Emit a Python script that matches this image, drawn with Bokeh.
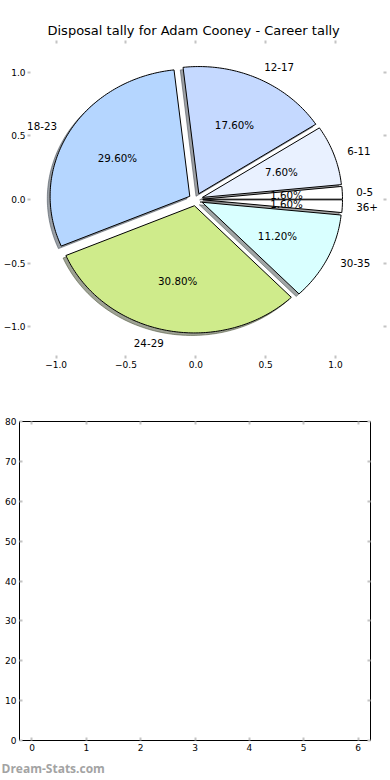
import numpy as np
from bokeh.plotting import figure
from bokeh.models import Range1d, LinearAxis, FixedTicker, ColumnDataSource, LabelSet, Title
from bokeh.embed import file_html
from bokeh.resources import INLINE
from bokeh.core.properties import value

# ---------------- data ----------------
title_text = "Disposal tally for Adam Cooney - Career tally"
categories = ["0-5", "6-11", "12-17", "18-23", "24-29", "30-35", "36+"]
counts = [4, 19, 44, 74, 77, 28, 4]
slice_colors = ["#ffffff", "#e9f1ff", "#c5d9ff", "#b5d6ff", "#cfeb8b", "#d9ffff", "#ffffff"]
pie_ticks = [-1.0, -0.5, 0.0, 0.5, 1.0]
pie_tick_labels = ["\u22121.0", "\u22120.5", "0.0", "0.5", "1.0"]
bar_x_ticks = [0, 1, 2, 3, 4, 5, 6]
bar_y_ticks = [0, 10, 20, 30, 40, 50, 60, 70, 80]
watermark = "Dream-Stats.com"

EXPLODE = 0.05
SHADOW = 0.02
FONT = "DejaVu Sans"
TICK_COLOR = "#c4c4c4"

# ---------------- pie geometry (computed from the data) ----------------
vals = np.array(counts, dtype=float)
frac = vals / vals.sum()
theta2 = np.cumsum(frac) * 2 * np.pi
theta1 = theta2 - frac * 2 * np.pi
mid = (theta1 + theta2) / 2
cx = EXPLODE * np.cos(mid)
cy = EXPLODE * np.sin(mid)

xs, ys, sxs, sys_ = [], [], [], []
for a, b, x0, y0 in zip(theta1, theta2, cx, cy):
    n = max(int(np.degrees(b - a)), 2) + 1
    t = np.linspace(a, b, n)
    px = np.concatenate([[x0], x0 + np.cos(t)])
    py = np.concatenate([[y0], y0 + np.sin(t)])
    xs.append(px.tolist())
    ys.append(py.tolist())
    sxs.append((px - SHADOW).tolist())
    sys_.append((py - SHADOW).tolist())


def shade(hexcol):
    h = hexcol.lstrip("#")
    r, g, b = (int(h[i:i + 2], 16) for i in (0, 2, 4))
    return "#%02x%02x%02x" % (int(r * 0.3), int(g * 0.3), int(b * 0.3))


shadow_colors = [shade(c) for c in slice_colors]

wedge_src = ColumnDataSource(dict(xs=xs, ys=ys, color=slice_colors, cat=categories))
shadow_src = ColumnDataSource(dict(xs=sxs, ys=sys_, color=shadow_colors))

lx = cx + 1.1 * np.cos(mid)
ly = cy + 1.1 * np.sin(mid)
right_side = lx > 0
lab_r = ColumnDataSource(dict(x=lx[right_side], y=ly[right_side],
                              t=[c for c, s in zip(categories, right_side) if s]))
lab_l = ColumnDataSource(dict(x=lx[~right_side], y=ly[~right_side],
                              t=[c for c, s in zip(categories, right_side) if not s]))
pct_src = ColumnDataSource(dict(x=cx + 0.6 * np.cos(mid), y=cy + 0.6 * np.sin(mid),
                                t=["%1.2f%%" % (f * 100) for f in frac]))


def style_axes(p, ticks_x, ticks_y, labels_map=None, standoff=3):
    top = LinearAxis()
    right = LinearAxis()
    p.add_layout(top, "above")
    p.add_layout(right, "right")
    for ax in p.axis:
        ax.axis_line_color = None
        ax.major_tick_in = 3
        ax.major_tick_out = 0
        ax.major_tick_line_color = TICK_COLOR
        ax.major_tick_line_width = 2
        ax.minor_tick_line_color = None
        ax.major_label_text_font = FONT
        ax.major_label_text_font_size = "9px"
        ax.major_label_text_color = "black"
        ax.major_label_standoff = standoff
    for ax in (p.below[0], top):
        ax.ticker = FixedTicker(ticks=ticks_x)
    for ax in (p.left[0], right):
        ax.ticker = FixedTicker(ticks=ticks_y)
    if labels_map:
        for ax in (p.below[0], p.left[0]):
            ax.major_label_overrides = labels_map
    top.major_label_overrides = {t: "" for t in ticks_x}
    right.major_label_overrides = {t: "" for t in ticks_y}
    top.major_label_standoff = 0
    right.major_label_standoff = 0


# ---------------- pie figure ----------------
p1 = figure(width=390, height=380, output_backend="svg", toolbar_location=None,
            x_range=Range1d(-1.205, 1.365), y_range=Range1d(-1.25, 1.25),
            min_border_top=40, min_border_right=4, min_border_bottom=22, min_border_left=0)
p1.title.text = title_text
p1.title.text_font = FONT
p1.title.text_font_size = "13px"
p1.title.text_font_style = "normal"
p1.title.text_color = "black"
p1.title.align = "left"
p1.title.offset = 20
p1.title.standoff = 6
p1.outline_line_color = None
p1.grid.visible = False

p1.patches("xs", "ys", source=shadow_src, fill_color="color", fill_alpha=0.5,
           line_color="color", line_alpha=0.5, line_width=1)
p1.patches("xs", "ys", source=wedge_src, fill_color="color", line_color="black", line_width=1)

for src, align in ((lab_r, "left"), (lab_l, "right")):
    p1.add_layout(LabelSet(x="x", y="y", text="t", source=src, text_align=align,
                           text_baseline="middle", text_font=value(FONT),
                           text_font_size="10.3px", text_color="black"))
p1.add_layout(LabelSet(x="x", y="y", text="t", source=pct_src, text_align="center",
                       text_baseline="middle", text_font=value(FONT),
                       text_font_size="10.3px", text_color="black"))

style_axes(p1, pie_ticks, pie_ticks,
           {t: l for t, l in zip(pie_ticks, pie_tick_labels)}, standoff=2)

# ---------------- empty bar axes ----------------
p2 = figure(width=390, height=400, output_backend="svg", toolbar_location=None,
            x_range=Range1d(-0.23, 6.23), y_range=Range1d(0, 80),
            min_border_top=41, min_border_right=20, min_border_bottom=39, min_border_left=19)
p2.outline_line_color = "black"
p2.outline_line_width = 1
p2.grid.visible = False
style_axes(p2, bar_x_ticks, bar_y_ticks, standoff=3)

p2.add_layout(Title(text=watermark, align="left", offset=-18, standoff=8,
                    text_font="Open Sans", text_font_size="12px", text_font_style="bold",
                    text_color="#a3a3a3"), "below")

open("out.html", "w").write(file_html([p1, p2], INLINE))
